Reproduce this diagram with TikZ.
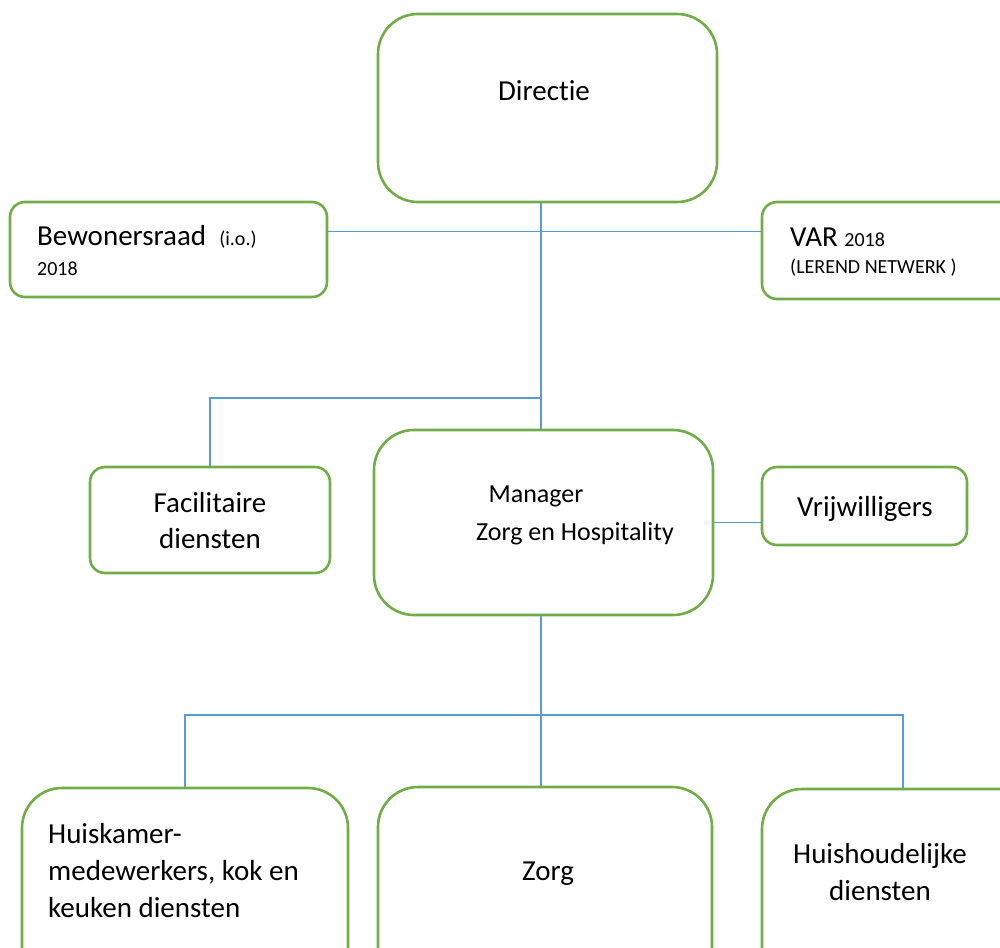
\documentclass[tikz,border=0pt]{standalone}
\usepackage{fontspec}
\setmainfont{Carlito}[Ligatures=NoCommon]
\usetikzlibrary{positioning,calc}
\definecolor{boxgreen}{HTML}{70AD47}
\definecolor{linkblue}{HTML}{5B9BD5}

\begin{document}
\begin{tikzpicture}[x=1pt,y=-1pt,
    box/.style={draw=boxgreen, line width=2.6pt, rounded corners=#1,
                inner sep=0pt, fill=white},
    box/.default=15pt,
    big/.style={font=\fontsize{29}{35}\selectfont, inner sep=0pt},
    mid/.style={font=\fontsize{26}{31}\selectfont, inner sep=0pt},
    small/.style={font=\fontsize{20}{24}\selectfont, inner sep=0pt},
    link/.style={draw=linkblue, line width=1.6pt}]
    \useasboundingbox (0,0) rectangle (1000,947);
    \clip (0,0) rectangle (1000,947);

    % boxes
    \node[box=40pt, minimum width=339pt, minimum height=188pt] (DIR) at (547.5,108) {};
    \node[box, minimum width=317pt, minimum height=95pt] (BEW) at (168.5,249.5) {};
    \node[box, minimum width=278pt, minimum height=97pt] (VAR) at (901,250.5) {};
    \node[box, minimum width=240pt, minimum height=106pt] (FAC) at (210,520) {};
    \node[box=40pt, minimum width=339pt, minimum height=185pt] (MGR) at (543.5,522.5) {};
    \node[box, minimum width=205pt, minimum height=78pt] (VRIJ) at (864.5,506) {};
    \node[box=40pt, minimum width=326pt, minimum height=200pt] (HUIS) at (185,888) {};
    \node[box=40pt, minimum width=334pt, minimum height=200pt] (ZORG) at (545,887) {};
    \node[box=40pt, minimum width=282pt, minimum height=200pt] (HH) at (903,889) {};

    % texts
    \node[big, anchor=base] (tDIR) at (544,101) {Directie};
    \node[big, anchor=base west] (tBEW) at (37,245) {Bewonersraad~~{\fontsize{20}{24}\selectfont(i.o.)}};
    \node[small, anchor=base west] (tBEW2) at (37,275) {2018};
    \node[big, anchor=base west] (tVAR) at (790,246) {VAR {\fontsize{20}{24}\selectfont 2018}};
    \node[small, anchor=base west] (tVAR2) at (790,273) {(LEREND NETWERK )};
    \node[big, anchor=base] (tFAC) at (210,512) {Facilitaire};
    \node[big, anchor=base] (tFAC2) at (210,548) {diensten};
    \node[mid, anchor=base] (tMGR) at (536,502) {Manager};
    \node[mid, anchor=base] (tMGR2) at (575,540) {Zorg en Hospitality};
    \node[big, anchor=base] (tVRIJ) at (865,516) {Vrijwilligers};
    \node[big, anchor=base west] (tHUIS) at (48,843) {Huiskamer-};
    \node[big, anchor=base west] (tHUIS2) at (48,880) {medewerkers, kok en};
    \node[big, anchor=base west] (tHUIS3) at (48,917) {keuken diensten};
    \node[big, anchor=base] (tZORG) at (548,880) {Zorg};
    \node[big, anchor=base] (tHH) at (880,863) {Huishoudelijke};
    \node[big, anchor=base] (tHH2) at (880,900) {diensten};

    % connectors
    \coordinate (trunk) at (541,398);
    \coordinate (bus) at (541,715);
    \draw[link] (DIR.south -| trunk) -- (MGR.north -| trunk);
    \draw[link] ([yshift=18pt]BEW.east) -- ([yshift=18pt]BEW.east -| VAR.west);
    \draw[link] (FAC.north) |- (trunk);
    \draw[link] (MGR.east) -- (MGR.east -| VRIJ.west);
    \draw[link] (MGR.south -| bus) -- (bus);
    \draw[link] (HUIS.north) |- (bus) -| (HH.north);
    \draw[link] (bus) -- (ZORG.north -| bus);
\end{tikzpicture}
\end{document}
